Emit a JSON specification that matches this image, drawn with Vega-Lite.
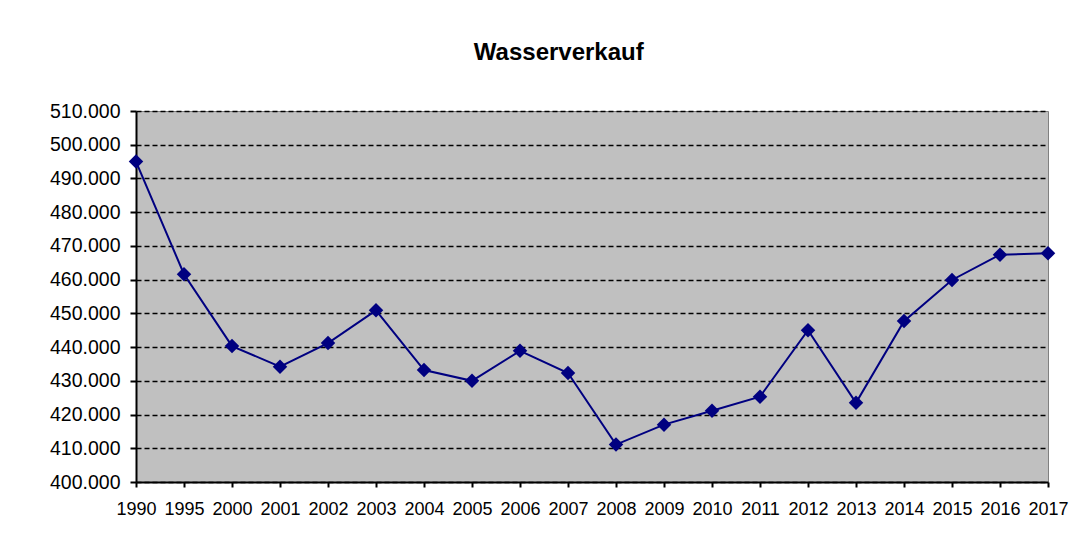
{
  "$schema": "https://vega.github.io/schema/vega-lite/v6.json",
  "width": 912,
  "height": 371,
  "autosize": {"type": "none"},
  "padding": {"left": 136, "top": 111, "right": 40, "bottom": 70},
  "background": "white",
  "title": {"text": "Wasserverkauf", "fontSize": 24, "fontWeight": "bold", "font": "Liberation Sans", "color": "black", "offset": 36, "anchor": "middle", "frame": "bounds"},
  "config": {
    "locale": {"number": {"decimal": ",", "thousands": ".", "grouping": [3], "currency": ["", " €"]}},
    "view": {"fill": "#C0C0C0", "stroke": "#808080", "strokeWidth": 1},
    "axis": {"labelFont": "Liberation Sans", "labelColor": "black", "domainColor": "black", "tickColor": "black"}
  },
  "data": {"values": [
    {"Jahr": "1990", "Verkauf": 495000},
    {"Jahr": "1995", "Verkauf": 461600},
    {"Jahr": "2000", "Verkauf": 440300},
    {"Jahr": "2001", "Verkauf": 434200},
    {"Jahr": "2002", "Verkauf": 441200},
    {"Jahr": "2003", "Verkauf": 450900},
    {"Jahr": "2004", "Verkauf": 433200},
    {"Jahr": "2005", "Verkauf": 430000},
    {"Jahr": "2006", "Verkauf": 438900},
    {"Jahr": "2007", "Verkauf": 432300},
    {"Jahr": "2008", "Verkauf": 411100},
    {"Jahr": "2009", "Verkauf": 417000},
    {"Jahr": "2010", "Verkauf": 421100},
    {"Jahr": "2011", "Verkauf": 425300},
    {"Jahr": "2012", "Verkauf": 445000},
    {"Jahr": "2013", "Verkauf": 423500},
    {"Jahr": "2014", "Verkauf": 447700},
    {"Jahr": "2015", "Verkauf": 459900},
    {"Jahr": "2016", "Verkauf": 467400},
    {"Jahr": "2017", "Verkauf": 467800}
  ]},
  "encoding": {
    "x": {"field": "Jahr", "type": "ordinal", "scale": {"type": "point", "padding": 0},
          "axis": {"title": null, "labelAngle": 0, "labelFontSize": 18, "labelPadding": 13, "domainWidth": 2, "tickWidth": 2, "tickSize": 5, "grid": false}},
    "y": {"field": "Verkauf", "type": "quantitative", "scale": {"domain": [400000, 510000], "nice": false, "zero": false},
          "axis": {"title": null, "values": [400000, 410000, 420000, 430000, 440000, 450000, 460000, 470000, 480000, 490000, 500000, 510000], "format": ",d", "labelFontSize": 19.5, "labelPadding": 10, "domainWidth": 2, "tickWidth": 2, "tickSize": 6, "grid": true, "gridColor": "black", "gridDash": [5, 3], "gridWidth": 1.5}}
  },
  "layer": [
    {"mark": {"type": "line", "color": "#000080", "strokeWidth": 2}},
    {"mark": {"type": "point", "shape": "diamond", "filled": true, "color": "#000080", "size": 210, "opacity": 1}}
  ]
}
